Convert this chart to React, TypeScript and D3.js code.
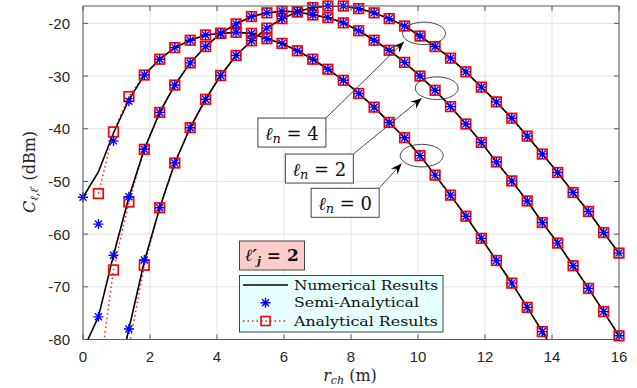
import React from 'react'
import * as d3 from 'd3'

// r_ch sample grid (m)
const rch = [0, 0.46, 0.91, 1.37, 1.83, 2.29, 2.74, 3.2, 3.66, 4.11, 4.57, 5.03, 5.49, 5.94, 6.4, 6.86, 7.31, 7.77, 8.23, 8.69, 9.14, 9.6, 10.06, 10.51, 10.97, 11.43, 11.89, 12.34, 12.8, 13.26, 13.71, 14.17, 14.63, 15.09, 15.54, 16]

// l_n = 0
const ln0Numerical = [-53, -48.2, -40.8, -34.5, -29.8, -26.8, -24.6, -23.2, -22.2, -21.9, -21.7, -21.9, -22.9, -23.8, -25.2, -26.8, -28.7, -30.8, -33.3, -35.9, -38.8, -41.7, -45.1, -48.8, -52.6, -56.6, -60.8, -65.0, -69.3, -73.9, -78.5, -83.3, null, null, null, null]
const ln0Semi = [-53, -58.1, -42.3, -34.8, -29.8, -26.8, -24.6, -23.2, -22.2, -21.9, -21.7, -21.9, -22.9, -23.8, -25.2, -26.8, -28.7, -30.8, -33.3, -35.9, -38.8, -41.7, -45.1, -48.8, -52.6, -56.6, -60.8, -65.0, -69.3, -73.9, -78.5, null, null, null, null, null]
const ln0Analytical = [null, -52.3, -40.6, -33.9, -29.8, -26.8, -24.6, -23.2, -22.2, -21.9, -21.7, -21.9, -22.9, -23.8, -25.2, -26.8, -28.7, -30.8, -33.3, -35.9, -38.8, -41.7, -45.1, -48.8, -52.6, -56.6, -60.8, -65.0, -69.3, -73.9, -78.5, -83.3, null, null, null, null]

// l_n = 2
const ln2Numerical = [-82, -75.7, -64.0, -53.0, -43.9, -36.9, -31.7, -27.5, -24.4, -21.9, -20.1, -18.7, -18.0, -17.7, -17.8, -18.4, -18.9, -19.9, -21.4, -23.2, -25.1, -27.4, -30.0, -32.7, -35.8, -39.1, -42.6, -46.3, -49.9, -53.7, -57.8, -61.7, -66.0, -70.3, -74.7, -79.3]
const ln2Semi = [null, -75.7, -64.0, -52.9, -43.9, -36.9, -31.7, -27.5, -24.4, -21.9, -20.1, -18.7, -18.0, -17.7, -17.8, -18.4, -18.9, -19.9, -21.4, -23.2, -25.1, -27.4, -30.0, -32.7, -35.8, -39.1, -42.6, -46.3, -49.9, -53.7, -57.8, -61.7, -66.0, -70.3, -74.7, -79.3]
const ln2Analytical = [null, -88, -66.8, -53.9, -43.9, -36.9, -31.7, -27.5, -24.4, -21.9, -20.1, -18.7, -18.0, -17.7, -17.8, -18.4, -18.9, -19.9, -21.4, -23.2, -25.1, -27.4, -30.0, -32.7, -35.8, -39.1, -42.6, -46.3, -49.9, -53.7, -57.8, -61.7, -66.0, -70.3, -74.7, -79.3]

// l_n = 4
const ln4Numerical = [null, null, -91, -78, -65.2, -55, -46.5, -39.8, -34.4, -29.9, -26.1, -23.3, -20.9, -19.1, -17.8, -17.0, -16.7, -16.7, -17.2, -18.0, -19.1, -20.5, -22.4, -24.4, -26.6, -29.2, -32.1, -34.9, -38.0, -41.4, -44.8, -48.3, -52.1, -55.7, -59.7, -63.6]
const ln4Semi = [null, null, null, -78, -64.9, -55, -46.5, -39.8, -34.4, -29.9, -26.1, -23.3, -20.9, -19.1, -17.8, -17.0, -16.7, -16.7, -17.2, -18.0, -19.1, -20.5, -22.4, -24.4, -26.6, -29.2, -32.1, -34.9, -38.0, -41.4, -44.8, -48.3, -52.1, -55.7, -59.7, -63.6]
const ln4Analytical = [null, null, null, -81.5, -65.9, -55, -46.5, -39.8, -34.4, -29.9, -26.1, -23.3, -20.9, -19.1, -17.8, -17.0, -16.7, -16.7, -17.2, -18.0, -19.1, -20.5, -22.4, -24.4, -26.6, -29.2, -32.1, -34.9, -38.0, -41.4, -44.8, -48.3, -52.1, -55.7, -59.7, -63.6]

const xTicks = [0, 2, 4, 6, 8, 10, 12, 14, 16]
const yTicks = [-80, -70, -60, -50, -40, -30, -20]
const legendLabels = ['Numerical Results', 'Semi-Analytical', 'Analytical Results']

// annotations, in data coordinates
const annoLabels = ['4', '2', '0']
const annoEllipse = [[10.18, -21.9], [10.56, -32.3], [10.11, -45.1]]
const annoTip = [[9.58, -23.5], [10.11, -34.2], [9.51, -46.6]]
const annoBoxCorner = [[7.25, -37.97], [8.07, -44.8], [8.84, -51.3]]

const W = 637
const H = 388
const serif = "'DejaVu Serif', 'Liberation Serif', serif"

function starPath(cx: number, cy: number, r = 5) {
  const d = r * 0.7
  return `M${cx - r},${cy}h${2 * r}M${cx},${cy - r}v${2 * r}M${cx - d},${cy - d}l${2 * d},${2 * d}M${cx - d},${cy + d}l${2 * d},${-2 * d}`
}

export default function App() {
  const x = d3.scaleLinear().domain([0, 16]).range([83, 619])
  const y = d3.scaleLinear().domain([-80, -16.7]).range([339.5, 6])
  const [x0, x1] = x.range()
  const [y0, y1] = y.range()

  const series = [
    { num: ln0Numerical, semi: ln0Semi, ana: ln0Analytical },
    { num: ln2Numerical, semi: ln2Semi, ana: ln2Analytical },
    { num: ln4Numerical, semi: ln4Semi, ana: ln4Analytical },
  ]

  const line = d3
    .line<[number, number | null]>()
    .defined((d) => d[1] != null)
    .x((d) => x(d[0]))
    .y((d) => y(d[1] as number))

  const pts = (vals: (number | null)[]) => rch.map((r, i) => [r, vals[i]] as [number, number | null])
  const visible = (v: number | null) => v != null && v >= -80.5 && v <= -16

  const arrowHead = (sx: number, sy: number, tx: number, ty: number) => {
    const dx = tx - sx
    const dy = ty - sy
    const len = Math.hypot(dx, dy)
    const ux = dx / len
    const uy = dy / len
    const nx = -uy
    const ny = ux
    const L = 11
    const w = 4.5
    return `M${tx},${ty}L${tx - L * ux + w * nx},${ty - L * uy + w * ny}L${tx - 0.65 * L * ux},${ty - 0.65 * L * uy}L${tx - L * ux - w * nx},${ty - L * uy - w * ny}Z`
  }

  return (
    <div style={{ position: 'fixed', left: 0, top: 0, width: W, height: H, background: '#fff' }}>
      <svg width={W} height={H} viewBox={`0 0 ${W} ${H}`}>
        <defs>
          <clipPath id="plotClip">
            <rect x={x0} y={y1} width={x1 - x0} height={y0 - y1} />
          </clipPath>
        </defs>
        <rect x={0} y={0} width={W} height={H} fill="#fff" />

        {/* grid */}
        <g stroke="#e3e3e3" strokeWidth={1}>
          {xTicks.map((t) => (
            <line key={`gx${t}`} x1={x(t)} x2={x(t)} y1={y0} y2={y1} />
          ))}
          {yTicks.map((t) => (
            <line key={`gy${t}`} x1={x0} x2={x1} y1={y(t)} y2={y(t)} />
          ))}
        </g>

        {/* curves */}
        <g clipPath="url(#plotClip)" fill="none">
          {series.map((s, i) => (
            <path key={`ana${i}`} d={line(pts(s.ana)) || ''} stroke="#ff2020" strokeWidth={1.5} strokeDasharray="1.5,3" />
          ))}
          {series.map((s, i) => (
            <path key={`num${i}`} d={line(pts(s.num)) || ''} stroke="#000" strokeWidth={1.6} />
          ))}
        </g>

        {/* markers */}
        <g fill="none">
          {series.map((s, i) =>
            rch.map((r, j) =>
              visible(s.ana[j]) ? (
                <rect key={`sq${i}-${j}`} x={x(r) - 4.8} y={y(s.ana[j] as number) - 4.8} width={9.6} height={9.6} stroke="#ff0000" strokeWidth={1.7} />
              ) : null
            )
          )}
          {series.map((s, i) =>
            rch.map((r, j) =>
              visible(s.semi[j]) ? (
                <path key={`st${i}-${j}`} d={starPath(x(r), y(s.semi[j] as number))} stroke="#0000ff" strokeWidth={1.4} />
              ) : null
            )
          )}
        </g>

        {/* axes box and ticks */}
        <g stroke="#5a5a5a" strokeWidth={1} fill="none">
          <rect x={x0} y={y1} width={x1 - x0} height={y0 - y1} />
          {xTicks.map((t) => (
            <g key={`tx${t}`}>
              <line x1={x(t)} x2={x(t)} y1={y0} y2={y0 - 5} />
              <line x1={x(t)} x2={x(t)} y1={y1} y2={y1 + 5} />
            </g>
          ))}
          {yTicks.map((t) => (
            <g key={`ty${t}`}>
              <line x1={x0} x2={x0 + 5} y1={y(t)} y2={y(t)} />
              <line x1={x1} x2={x1 - 5} y1={y(t)} y2={y(t)} />
            </g>
          ))}
        </g>
        <g fontFamily="'Liberation Sans', Arial, sans-serif" fontSize={15} fill="#262626">
          {xTicks.map((t) => (
            <text key={`lx${t}`} x={x(t)} y={362} textAnchor="middle">
              {t}
            </text>
          ))}
          {yTicks.map((t) => (
            <text key={`ly${t}`} x={70} y={y(t) + 5.5} textAnchor="end">
              {t}
            </text>
          ))}
        </g>

        {/* axis labels */}
        <text x={350} y={381} textAnchor="middle" fontFamily={serif} fontSize={16} fill="#262626">
          <tspan fontStyle="italic">r</tspan>
          <tspan fontStyle="italic" fontSize={11} dy={3}>ch</tspan>
          <tspan dy={-3}>{'\u00a0(m)'}</tspan>
        </text>
        <text transform="translate(35,172) rotate(-90)" textAnchor="middle" fontFamily={serif} fontSize={16} fill="#262626">
          <tspan fontStyle="italic">C</tspan>
          <tspan fontStyle="italic" fontSize={11} dy={3}>{'\u2113,\u2113\u2032'}</tspan>
          <tspan dy={-3}>{'\u00a0(dBm)'}</tspan>
        </text>

        {/* annotations */}
        {annoLabels.map((lab, i) => {
          const ex = x(annoEllipse[i][0])
          const ey = y(annoEllipse[i][1])
          const tx = x(annoTip[i][0])
          const ty = y(annoTip[i][1])
          const bx = x(annoBoxCorner[i][0])
          const by = y(annoBoxCorner[i][1])
          return (
            <g key={`an${lab}`}>
              <ellipse cx={ex} cy={ey} rx={21.5} ry={11.3} fill="none" stroke="#333" strokeWidth={0.9} />
              <line x1={bx} y1={by} x2={tx} y2={ty} stroke="#333" strokeWidth={0.9} />
              <path d={arrowHead(bx, by, tx, ty)} fill="#000" />
              <rect x={bx - 68} y={by} width={68} height={29} fill="#fff" stroke="#444" strokeWidth={1} />
              <text x={bx - 34} y={by + 21.5} textAnchor="middle" fontFamily={serif} fontSize={18} fill="#111">
                <tspan fontStyle="italic">{'\u2113'}</tspan>
                <tspan fontStyle="italic" fontSize={13} dy={3}>n</tspan>
                <tspan dy={-3}>{` = ${lab}`}</tspan>
              </text>
            </g>
          )
        })}

        {/* l'_j box */}
        <rect x={239.5} y={241} width={65} height={29} fill="#ffcccc" stroke="#444" strokeWidth={1} />
        <text x={272} y={260.5} textAnchor="middle" fontFamily={serif} fontSize={17} fontWeight="bold" fill="#111">
          <tspan fontStyle="italic">{'\u2113\u2032'}</tspan>
          <tspan fontStyle="italic" fontSize={11} dy={4}>j</tspan>
          <tspan dy={-4}>{' = 2'}</tspan>
        </text>

        {/* legend */}
        <g>
          <rect x={239.5} y={275.5} width={203.5} height={56.5} fill="#e6ffff" stroke="#444" strokeWidth={1} />
          <line x1={243} x2={288} y1={285} y2={285} stroke="#000" strokeWidth={1.5} />
          <path d={starPath(265.5, 302.7)} stroke="#0000ff" strokeWidth={1.4} fill="none" />
          <line x1={243} x2={288} y1={321} y2={321} stroke="#ff2020" strokeWidth={1.5} strokeDasharray="1.5,3" />
          <rect x={261} y={316.5} width={9} height={9} fill="none" stroke="#ff0000" strokeWidth={1.6} />
          {legendLabels.map((lab, i) => (
            <text
              key={lab}
              x={294}
              y={[289.5, 307.2, 325.5][i]}
              fontFamily={serif}
              fontSize={13.5}
              fill="#111"
              textLength={[144, 125, 144][i]}
              lengthAdjust="spacingAndGlyphs"
            >
              {lab}
            </text>
          ))}
        </g>
      </svg>
    </div>
  )
}
